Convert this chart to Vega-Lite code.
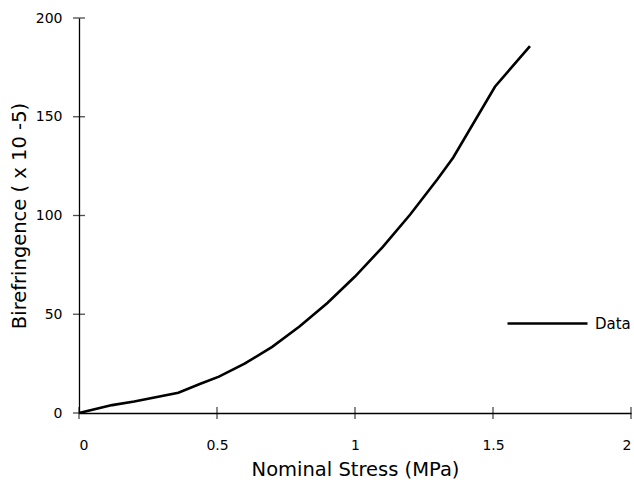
{
  "$schema": "https://vega.github.io/schema/vega-lite/v6.json",
  "autosize": "none",
  "width": 552,
  "height": 395,
  "padding": {"left": 79, "top": 18, "right": 3, "bottom": 71},
  "background": "white",
  "config": {
    "view": {"stroke": null},
    "font": "DejaVu Sans",
    "axis": {"grid": false, "domainColor": "black", "domainWidth": 1.3, "tickColor": "black", "tickWidth": 1.3, "labelColor": "black", "titleColor": "black", "labelFont": "DejaVu Sans", "titleFont": "DejaVu Sans", "titleFontWeight": "normal", "labelFontSize": 14, "titleFontSize": 19.5}
  },
  "datasets": {
    "curve": [
      {"stress": 0, "bire": 0, "series": "Data"},
      {"stress": 0.12, "bire": 4.0, "series": "Data"},
      {"stress": 0.2, "bire": 5.8, "series": "Data"},
      {"stress": 0.36, "bire": 10.3, "series": "Data"},
      {"stress": 0.44, "bire": 14.8, "series": "Data"},
      {"stress": 0.507, "bire": 18.4, "series": "Data"},
      {"stress": 0.6, "bire": 25.0, "series": "Data"},
      {"stress": 0.7, "bire": 33.5, "series": "Data"},
      {"stress": 0.8, "bire": 43.9, "series": "Data"},
      {"stress": 0.9, "bire": 55.7, "series": "Data"},
      {"stress": 1.0, "bire": 69.1, "series": "Data"},
      {"stress": 1.1, "bire": 84.0, "series": "Data"},
      {"stress": 1.2, "bire": 100.5, "series": "Data"},
      {"stress": 1.3, "bire": 118.6, "series": "Data"},
      {"stress": 1.356, "bire": 129.4, "series": "Data"},
      {"stress": 1.507, "bire": 165.2, "series": "Data"},
      {"stress": 1.634, "bire": 185.8, "series": "Data"}
    ],
    "xticks": [{"v": 0}, {"v": 0.5}, {"v": 1}, {"v": 1.5}, {"v": 2}],
    "yticks": [{"v": 0}, {"v": 50}, {"v": 100}, {"v": 150}, {"v": 200}]
  },
  "layer": [
    {
      "data": {"name": "curve"},
      "mark": {"type": "line", "strokeWidth": 2.6, "interpolate": "linear"},
      "encoding": {
        "x": {"field": "stress", "type": "quantitative", "scale": {"domain": [0, 2], "nice": false},
          "axis": {"orient": "bottom", "values": [0, 0.5, 1, 1.5, 2], "format": "~g", "ticks": false, "tickSize": 6, "labelPadding": 25, "title": "Nominal Stress (MPa)", "titlePadding": 8}},
        "y": {"field": "bire", "type": "quantitative", "scale": {"domain": [0, 200], "nice": false},
          "axis": {"orient": "left", "values": [0, 50, 100, 150, 200], "ticks": false, "tickSize": 6, "labelPadding": 17, "title": "Birefringence ( x 10 -5)", "titlePadding": 6}},
        "color": {"field": "series", "type": "nominal", "scale": {"domain": ["Data"], "range": ["black"]},
          "legend": {"orient": "none", "legendX": 427, "legendY": 264, "title": null, "symbolType": "stroke", "symbolSize": 6400, "symbolStrokeWidth": 2.6, "labelFontSize": 15, "labelFont": "DejaVu Sans", "labelColor": "black", "labelOffset": 6, "padding": 0}}
      }
    },
    {
      "data": {"name": "xticks"},
      "mark": {"type": "tick", "orient": "vertical", "size": 12, "thickness": 1.3, "color": "black"},
      "encoding": {
        "x": {"field": "v", "type": "quantitative"},
        "y": {"datum": 0, "type": "quantitative"}
      }
    },
    {
      "data": {"name": "yticks"},
      "mark": {"type": "tick", "orient": "horizontal", "size": 12, "thickness": 1.3, "color": "black"},
      "encoding": {
        "y": {"field": "v", "type": "quantitative"},
        "x": {"datum": 0, "type": "quantitative"}
      }
    }
  ]
}
